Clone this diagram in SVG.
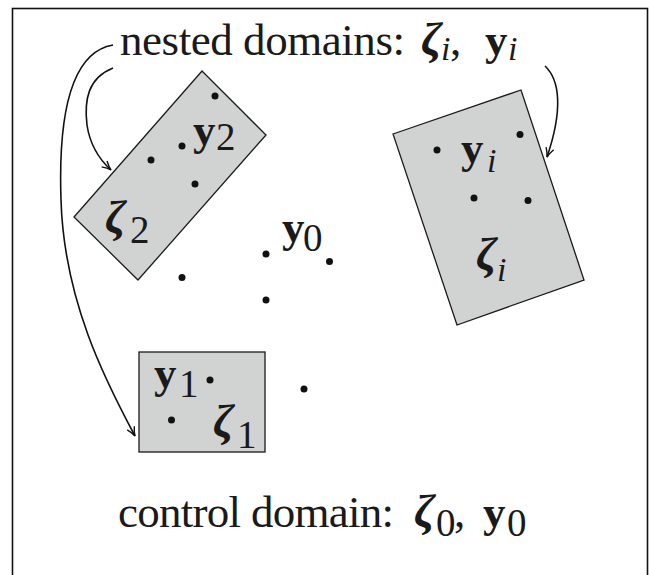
<svg xmlns="http://www.w3.org/2000/svg" width="649" height="575" viewBox="0 0 649 575">
<style>
.t{font-family:"Liberation Serif","Times New Roman",serif;font-size:45px;fill:#1a1a1a}
.z{font-family:"Liberation Serif","Times New Roman",serif;font-size:47px;font-weight:bold;font-style:italic;fill:#1a1a1a}
.y{font-family:"Liberation Serif","Times New Roman",serif;font-size:45px;font-weight:bold;fill:#1a1a1a}
.s{font-family:"Liberation Serif","Times New Roman",serif;font-size:39px;fill:#1a1a1a}
.si{font-family:"Liberation Serif","Times New Roman",serif;font-size:34px;font-style:italic;fill:#1a1a1a}
.box{fill:#d1d3d3;stroke:#1a1a1a;stroke-width:1.3}
.dot{fill:#111}
.arr{fill:none;stroke:#111;stroke-width:1.6;marker-end:url(#ah)}
</style>
<defs>
<marker id="ah" markerWidth="12" markerHeight="10" refX="10" refY="5" orient="auto" markerUnits="userSpaceOnUse">
<path d="M1,1 Q6,4 10,5 Q6,6 1,9" fill="none" stroke="#111" stroke-width="1.4"/>
</marker>
</defs>
<rect x="12.5" y="8.5" width="635" height="580" fill="#fff" stroke="#111" stroke-width="1.6"/>

<g id="label-nested">
<text class="t" x="120" y="55" textLength="285" lengthAdjust="spacing">nested domains:</text>
<text class="z" x="421" y="55">ζ</text>
<text class="si" x="441" y="60">i</text>
<text class="t" x="450" y="55">,</text>
<text class="y" x="485" y="55">y</text>
<text class="si" x="508" y="60">i</text>
</g>

<g id="domain-2">
<polygon class="box" points="202,71 266,135 138,280 74,217"/>
<circle class="dot" cx="215" cy="96" r="3.5"/>
<circle class="dot" cx="182" cy="146" r="3.5"/>
<circle class="dot" cx="151" cy="160" r="3.5"/>
<circle class="dot" cx="195" cy="184" r="3.5"/>
<text class="y" x="193" y="145">y</text>
<text class="s" x="216" y="150">2</text>
<text class="z" x="105" y="233">ζ</text>
<text class="s" x="130" y="243">2</text>
</g>

<g id="domain-i">
<polygon class="box" points="393,134 521,90 584,280 457,325"/>
<circle class="dot" cx="437" cy="150" r="3.5"/>
<circle class="dot" cx="520" cy="134.5" r="3.5"/>
<circle class="dot" cx="474" cy="198" r="3.5"/>
<circle class="dot" cx="528" cy="200.5" r="3.5"/>
<text class="y" x="461" y="163">y</text>
<text class="si" x="487" y="172">i</text>
<text class="z" x="476" y="270">ζ</text>
<text class="si" x="497" y="281">i</text>
</g>

<g id="domain-1">
<rect class="box" x="139" y="352" width="126" height="100"/>
<circle class="dot" cx="210" cy="380" r="3.5"/>
<circle class="dot" cx="171.5" cy="420" r="3.5"/>
<text class="y" x="154" y="388">y</text>
<text class="s" x="179" y="397">1</text>
<text class="z" x="213" y="437">ζ</text>
<text class="s" x="237" y="448">1</text>
</g>

<g id="domain-0">
<circle class="dot" cx="266" cy="254" r="3.5"/>
<circle class="dot" cx="329.5" cy="261.5" r="3.5"/>
<circle class="dot" cx="182" cy="277.5" r="3.5"/>
<circle class="dot" cx="266" cy="300" r="3.5"/>
<circle class="dot" cx="304" cy="389" r="3.5"/>
<text class="y" x="282" y="242">y</text>
<text class="s" x="303" y="251">0</text>
<text class="t" x="118" y="527" textLength="276" lengthAdjust="spacing">control domain:</text>
<text class="z" x="414" y="527">ζ</text>
<text class="s" x="436" y="536">0</text>
<text class="t" x="454" y="527">,</text>
<text class="y" x="483" y="527">y</text>
<text class="s" x="507" y="536">0</text>
</g>

<g id="connectors">
<path class="arr" d="M113,45 C72,52 58,110 61,200 C64,300 105,380 135,436"/>
<path class="arr" d="M113,68 C88,78 84,100 87,125 C90,145 100,160 111,170"/>
<path class="arr" d="M545,66 C560,80 563,110 547,157"/>
</g>
</svg>
